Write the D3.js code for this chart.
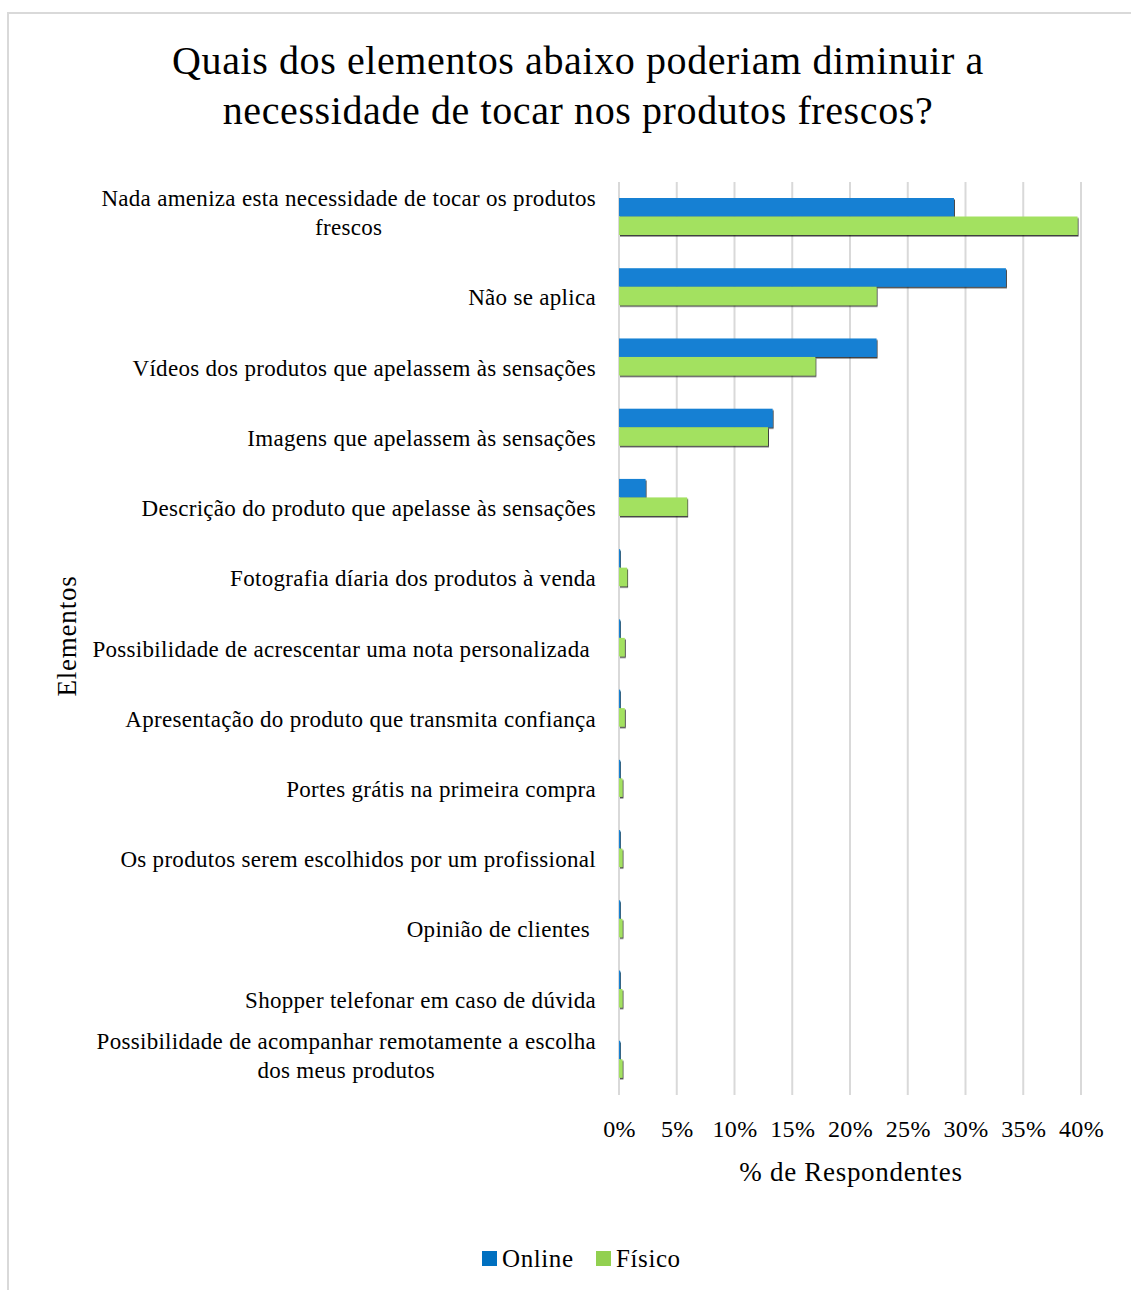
<!DOCTYPE html>
<html>
<head>
<meta charset="utf-8">
<script src="https://cdn.jsdelivr.net/npm/d3@7"></script>
<style>
  body { margin: 0; background: #fff; }
  text { font-family: "Liberation Serif", serif; fill: #000; }
</style>
</head>
<body>
<svg id="chart"></svg>
<script>
// data
const categories = [
  "Nada ameniza esta necessidade de tocar os produtos|frescos",
  "Não se aplica",
  "Vídeos dos produtos que apelassem às sensações",
  "Imagens que apelassem às sensações",
  "Descrição do produto que apelasse às sensações",
  "Fotografia díaria dos produtos à venda",
  "Possibilidade de acrescentar uma nota personalizada ",
  "Apresentação do produto que transmita confiança",
  "Portes grátis na primeira compra",
  "Os produtos serem escolhidos por um profissional",
  "Opinião de clientes ",
  "Shopper telefonar em caso de dúvida",
  "Possibilidade de acompanhar remotamente a escolha|dos meus produtos"
];
const series = ["Online", "Físico"];
const online = [0.290, 0.335, 0.223, 0.133, 0.023, 0.001, 0.001, 0.001, 0.001, 0.001, 0.001, 0.001, 0.001];
const fisico = [0.397, 0.223, 0.170, 0.129, 0.059, 0.007, 0.005, 0.005, 0.003, 0.003, 0.003, 0.003, 0.003];
const xTicks = [0, 0.05, 0.10, 0.15, 0.20, 0.25, 0.30, 0.35, 0.40];
const titleLines = ["Quais dos elementos abaixo poderiam diminuir a", "necessidade de tocar nos produtos frescos?"];

const W = 1131, H = 1290;
const plot = {left: 619, right: 1081, top: 182, bottom: 1095};

const barColor = {"Online": "#1580d3", "Físico": "#a3e160"};
const legendColor = {"Online": "#0070c0", "Físico": "#92d050"};

const svg = d3.select("#chart")
  .attr("width", W)
  .attr("height", H);

// shadow for bars
const defs = svg.append("defs");
const f = defs.append("filter").attr("id", "shadow")
  .attr("x", "-50%").attr("y", "-50%").attr("width", "200%").attr("height", "200%");
f.append("feDropShadow")
  .attr("dx", 1).attr("dy", 1.5)
  .attr("stdDeviation", 0.6)
  .attr("flood-color", "#000")
  .attr("flood-opacity", 0.75);

// chart border
svg.append("rect")
  .attr("x", 8).attr("y", 13)
  .attr("width", 1300).attr("height", 1400)
  .attr("fill", "none")
  .attr("stroke", "#d9d9d9")
  .attr("stroke-width", 2);

// title
svg.append("g").selectAll("text")
  .data(titleLines)
  .join("text")
  .attr("x", 578)
  .attr("y", (d, i) => 74 + i * 50)
  .attr("text-anchor", "middle")
  .attr("font-size", "40px")
  .attr("letter-spacing", "0.6px")
  .text(d => d);

// scales
const x = d3.scaleLinear()
  .domain([0, 0.4])
  .range([plot.left, plot.right]);

const y = d3.scaleBand()
  .domain(categories)
  .range([plot.top, plot.bottom]);

const ySub = d3.scaleBand()
  .domain(series)
  .range([16, 53]);

// gridlines
svg.append("g")
  .selectAll("line")
  .data(xTicks)
  .join("line")
  .attr("x1", d => x(d)).attr("x2", d => x(d))
  .attr("y1", plot.top).attr("y2", plot.bottom)
  .attr("stroke", "#d9d9d9")
  .attr("stroke-width", 2);

// bars
const rows = categories.map((c, i) => ({cat: c, Online: online[i], "Físico": fisico[i]}));
const groups = svg.append("g")
  .selectAll("g")
  .data(rows)
  .join("g")
  .attr("transform", d => `translate(0, ${y(d.cat)})`);

groups.selectAll("rect")
  .data(d => series.map(s => ({key: s, value: d[s]})))
  .join("rect")
  .attr("x", x(0))
  .attr("y", d => ySub(d.key))
  .attr("width", d => x(d.value) - x(0))
  .attr("height", ySub.bandwidth())
  .attr("fill", d => barColor[d.key])
  .attr("filter", "url(#shadow)");

// category labels (right aligned, wrapped lines centred on each other)
const labels = svg.append("g")
  .selectAll("text")
  .data(categories)
  .join("text")
  .attr("font-size", "23px")
  .attr("letter-spacing", "0.3px")
  .style("white-space", "pre");

labels.each(function(d) {
  const lines = d.split("|");
  const t = d3.select(this);
  const cy = y(d) + y.bandwidth() / 2;
  if (lines.length === 1) {
    t.attr("x", 596).attr("y", cy + 18).attr("text-anchor", "end").text(lines[0]);
  } else {
    // measure first line to find the centre of the block
    t.text(lines[0]);
    const w = this.getComputedTextLength();
    t.text(null);
    const mid = 596 - w / 2;
    t.attr("text-anchor", "middle");
    lines.forEach((ln, i) => {
      t.append("tspan")
        .attr("x", mid)
        .attr("y", cy + 18 - (lines.length - 1 - i) * 29)
        .text(ln);
    });
  }
});

// x axis
const xAxis = svg.append("g")
  .attr("transform", `translate(0, ${plot.bottom + 22})`)
  .call(d3.axisBottom(x).tickValues(xTicks).tickSize(0).tickFormat(d3.format(".0%")));
xAxis.select(".domain").remove();
xAxis.selectAll("text")
  .attr("font-family", "Liberation Serif, serif")
  .attr("font-size", "24px")
  .attr("letter-spacing", "0.3px")
  .attr("fill", "#000");

// axis titles
svg.append("text")
  .attr("x", 851)
  .attr("y", 1181)
  .attr("text-anchor", "middle")
  .attr("font-size", "27px")
  .attr("letter-spacing", "0.7px")
  .text("% de Respondentes");

svg.append("text")
  .attr("transform", "translate(76, 636) rotate(-90)")
  .attr("text-anchor", "middle")
  .attr("font-size", "27px")
  .attr("letter-spacing", "0.8px")
  .text("Elementos");

// legend
const legend = svg.append("g")
  .selectAll("g")
  .data(series)
  .join("g")
  .attr("transform", (d, i) => `translate(${482 + i * 114}, 1251)`);
legend.append("rect")
  .attr("width", 15).attr("height", 15)
  .attr("fill", d => legendColor[d]);
legend.append("text")
  .attr("x", 20)
  .attr("y", 16)
  .attr("font-size", "25px")
  .attr("letter-spacing", "0.6px")
  .text(d => d);
</script>
</body>
</html>
